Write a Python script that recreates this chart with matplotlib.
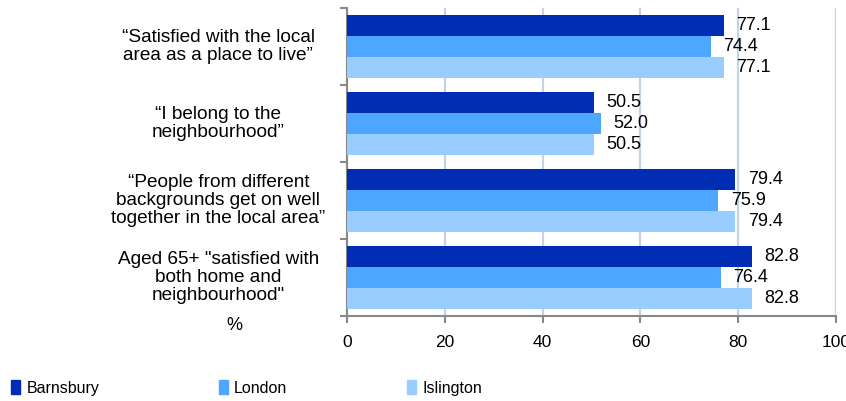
import numpy as np
import matplotlib.pyplot as plt
from matplotlib.patches import Patch

plt.rcParams['font.family'] = ['Liberation Sans', 'DejaVu Sans']

# %% Data
categories = ['\u201cSatisfied with the local\narea as a place to live\u201d',
              '\u201cI belong to the\nneighbourhood\u201d',
              '\u201cPeople from different\nbackgrounds get on well\ntogether in the local area\u201d',
              'Aged 65+ "satisfied with\nboth home and\nneighbourhood"']
series = ['Barnsbury', 'London', 'Islington']
barnsbury = [77.1, 50.5, 79.4, 82.8]
london = [74.4, 52.0, 75.9, 76.4]
islington = [77.1, 50.5, 79.4, 82.8]
colors = ['#002db3', '#4da6ff', '#99ccff']

# %% Plot
fig = plt.figure(figsize=(8.46, 4.01), dpi=100)
ax = fig.add_axes([347/846, 85/401, 489/846, 308/401])

y = np.arange(len(categories))
h = 0.273
for i, (vals, c) in enumerate(zip([barnsbury, london, islington], colors)):
    bars = ax.barh(y + (i - 1) * h, vals, height=h, color=c, zorder=3)
    for b, v in zip(bars, vals):
        ax.annotate(f'{v:.1f}', (v, b.get_y() + b.get_height() / 2),
                    xytext=(9, 0), textcoords='offset points',
                    ha='left', va='center', fontsize=13, zorder=4)

ax.set_xlim(0, 100)
ax.set_ylim(3.5, -0.5)
ax.set_xticks(np.arange(0, 101, 20))
ax.xaxis.grid(True, color='#c3d3ea', lw=1.6, zorder=0)
ax.set_yticks(np.arange(-0.5, 4, 1))
ax.set_yticklabels([])
ax.tick_params(axis='y', length=5, color='#888888', width=1.5)
ax.tick_params(axis='x', length=5, color='#888888', width=1.5, pad=9, labelsize=12.5)
for s in ['top', 'right']:
    ax.spines[s].set_visible(False)
for s in ['left', 'bottom']:
    ax.spines[s].set_color('#888888')
    ax.spines[s].set_linewidth(1.5)

for yi, lab in zip(y, categories):
    ax.text(-0.263, yi, lab, transform=ax.get_yaxis_transform(),
            ha='center', va='center', fontsize=13.7, linespacing=1.1)

fig.text(234/846, 1 - 326/401, '%', ha='center', va='center', fontsize=13)

handles = [Patch(color=c, label=s) for c, s in zip(colors, series)]
fig.legend(handles=handles, loc='center left', bbox_to_anchor=(0.0, 1 - 388/401),
           ncol=3, frameon=False, fontsize=11.5, handlelength=0.55, handleheight=0.9,
           handletextpad=0.4, columnspacing=7.5, borderpad=0.2)

fig.savefig('out.png', dpi=100)
